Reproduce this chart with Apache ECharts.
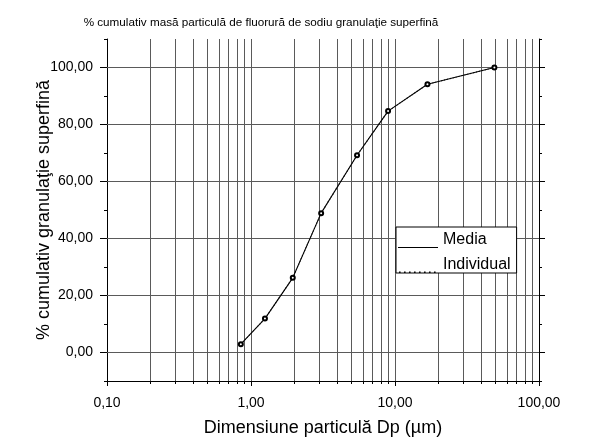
<!DOCTYPE html>
<html>
<head>
<meta charset="utf-8">
<script src="https://cdn.jsdelivr.net/npm/echarts@6/dist/echarts.min.js"></script>
<style>
html,body{margin:0;padding:0;background:#fff;}
#chart{width:595px;height:437px;}
</style>
</head>
<body>
<div id="chart"></div>
<script>
// ---- data ----
const particleSize = [0.85, 1.25, 1.95, 3.07, 5.45, 8.95, 16.8, 49];
const mediaValues = [2.9, 11.9, 26.2, 48.9, 69.2, 84.7, 94.1, 100];
const individualValues = [2.9, 11.9, 26.2, 48.9, 69.2, 84.7, 94.1, 100];
const seriesNames = ['Media', 'Individual'];
const yMajorTicks = [0, 20, 40, 60, 80, 100];
const yMinorTicks = [-10, 10, 30, 50, 70, 90, 110];
const xMinorGrid = [0.2,0.3,0.4,0.5,0.6,0.7,0.8,0.9,2,3,4,5,6,7,8,9,20,30,40,50,60,70,80,90];
const xMajorGrid = [1, 10];
const titleText = '% cumulativ masă particulă de fluorură de sodiu granulaţie superfină';
const xName = 'Dimensiune particulă Dp (µm)';
const yName = '% cumulativ granulaţie superfină';

const FONT = "'Liberation Sans', Arial, sans-serif";
const fmt = v => Number(v).toFixed(2).replace('.', ',');

// dotted legend icon path
let dots = 'path://M0,0 M40,0 ';
for (let i = 0; i < 8; i++) { const x = 1 + i * 5; dots += 'M' + x + ',14.5h1.6v1.5h-1.6z '; }

const chart = echarts.init(document.getElementById('chart'), null, {renderer: 'canvas'});
const grid = {left: 107, right: 56, top: 39, bottom: 56, outerBoundsMode: 'none', containLabel: false};

const gridLine = {color: '#5a5a5a', width: 1, type: 'solid'};

chart.setOption({
  animation: false,
  backgroundColor: '#fff',
  textStyle: {fontFamily: FONT},
  title: {
    text: titleText, left: 256, top: 12, textAlign: 'center',
    textStyle: {fontSize: 11.7, fontWeight: 'normal', color: '#000', fontFamily: FONT}
  },
  grid: grid,
  legend: {
    orient: 'vertical', left: 396, top: 227,
    padding: [5, 6, 0, 2], itemGap: 9, itemWidth: 40, itemHeight: 16,
    backgroundColor: '#fff', borderColor: '#000', borderWidth: 1,
    textStyle: {fontSize: 16, color: '#000', fontFamily: FONT},
    itemStyle: {borderWidth: 0},
    data: [
      {name: seriesNames[0], icon: 'path://M0,0 M0,15h40v1h-40z', itemStyle: {color: '#000', borderWidth: 0}},
      {name: seriesNames[1], icon: dots, itemStyle: {color: '#000', borderWidth: 0}}
    ]
  },
  xAxis: [
    {
      type: 'log', logBase: 10, min: 0.1, max: 100, position: 'bottom',
      name: xName, nameLocation: 'middle', nameGap: 38, nameMoveOverlap: false,
      nameTextStyle: {fontSize: 18, color: '#000', fontFamily: FONT},
      axisLine: {show: true, onZero: false, lineStyle: {color: '#000', width: 1}},
      axisTick: {show: true, length: 5, inside: false, lineStyle: {color: '#000'}},
      axisLabel: {formatter: fmt, fontSize: 14, color: '#000', margin: 15, fontFamily: FONT},
      splitLine: {show: false}
    },
    {
      type: 'value', min: -1, max: 2, position: 'bottom',
      axisLine: {show: false, onZero: false},
      axisLabel: {show: false},
      axisTick: {show: true, length: 3, customValues: xMinorGrid.map(v => Math.log10(v)), lineStyle: {color: '#000'}},
      splitLine: {show: false}
    }
  ],
  yAxis: [
    {
      type: 'value', min: -10, max: 110, position: 'left',
      name: yName, nameLocation: 'middle', nameGap: 54, nameRotate: 90, nameMoveOverlap: false,
      nameTextStyle: {fontSize: 18, color: '#000', fontFamily: FONT},
      axisLine: {show: true, onZero: false, lineStyle: {color: '#000', width: 1}},
      axisTick: {show: true, length: 7, customValues: yMajorTicks, lineStyle: {color: '#000'}},
      axisLabel: {customValues: yMajorTicks, formatter: fmt, fontSize: 14, color: '#000', margin: 14, fontFamily: FONT},
      splitLine: {show: false}
    },
    {
      type: 'value', min: -10, max: 110, position: 'left',
      axisLine: {show: false, onZero: false},
      axisTick: {show: true, length: 3, customValues: yMinorTicks, lineStyle: {color: '#000'}},
      axisLabel: {show: false},
      splitLine: {show: false}
    },
    {
      type: 'value', min: -10, max: 110, position: 'right',
      axisLine: {show: true, onZero: false, lineStyle: {color: '#000', width: 1}},
      axisTick: {show: true, length: 6, customValues: yMajorTicks, lineStyle: {color: '#000'}},
      axisLabel: {show: false},
      splitLine: {show: false}
    },
    {
      type: 'value', min: -10, max: 110, position: 'right',
      axisLine: {show: false, onZero: false},
      axisTick: {show: true, length: 3, customValues: yMinorTicks, lineStyle: {color: '#000'}},
      axisLabel: {show: false},
      splitLine: {show: false}
    }
  ],
  series: [
    {
      name: seriesNames[1], type: 'line', xAxisIndex: 0, yAxisIndex: 0,
      data: particleSize.map((x, i) => [x, individualValues[i]]),
      symbol: 'none', z: 3,
      lineStyle: {color: '#444', width: 1.2, type: [1, 2]},
      itemStyle: {color: '#000'},
      markLine: {
        silent: true, symbol: 'none', label: {show: false}, animation: false, z: 1,
        lineStyle: gridLine,
        data: xMinorGrid.concat(xMajorGrid).map(v => ({xAxis: v}))
          .concat(yMajorTicks.map(v => ({yAxis: v})))
      }
    },
    {
      name: seriesNames[0], type: 'line', xAxisIndex: 0, yAxisIndex: 0,
      data: particleSize.map((x, i) => [x, mediaValues[i]]),
      symbol: 'emptyCircle', symbolSize: 4, z: 4,
      lineStyle: {color: '#000', width: 1.1},
      itemStyle: {color: '#000', borderWidth: 1}
    }
  ]
});
</script>
</body>
</html>
